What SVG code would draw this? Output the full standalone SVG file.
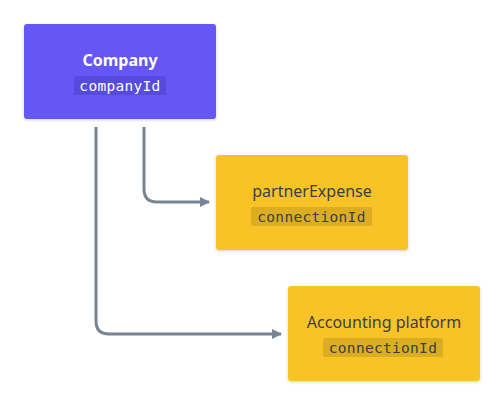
<svg xmlns="http://www.w3.org/2000/svg" width="504" height="406" viewBox="0 0 504 406">
<style>
.title{font-family:"Noto Sans","Open Sans",sans-serif;font-size:16px;text-anchor:middle}
.code{font-family:"DejaVu Sans Mono","Liberation Mono",monospace;font-size:14.5px;text-anchor:middle;letter-spacing:0.3px}
.conn{fill:none;stroke:#778593;stroke-width:3}
</style>
<defs>
<filter id="sh" x="-10%" y="-10%" width="120%" height="130%">
<feDropShadow dx="0" dy="1" stdDeviation="1.5" flood-color="#000" flood-opacity="0.18"/>
</filter>
<marker id="arr" viewBox="0 0 10 10" refX="9" refY="5" markerWidth="10" markerHeight="10" markerUnits="userSpaceOnUse" orient="auto">
<path d="M0,0 L10,5 L0,10 Z" fill="#778593"/>
</marker>
</defs>
<rect width="504" height="406" fill="#ffffff"/>
<g id="connectors">
<path class="conn" d="M144,127 V189 Q144,202 157,202 H209" marker-end="url(#arr)"/>
<path class="conn" d="M96,127 V321 Q96,334 109,334 H281" marker-end="url(#arr)"/>
</g>
<g id="company">
<rect x="24" y="24" width="192" height="95" rx="3" fill="#6557f5" filter="url(#sh)"/>
<text class="title" x="120" y="66" fill="#ffffff" font-weight="bold">Company</text>
<rect x="74" y="76" width="92" height="19" rx="2" fill="#574bde"/>
<text class="code" x="120" y="90.5" fill="#ffffff">companyId</text>
</g>
<g id="partnerExpense">
<rect x="216" y="155" width="192" height="95" rx="3" fill="#f7c325" filter="url(#sh)"/>
<text class="title" x="312" y="197" fill="#3a3f44">partnerExpense</text>
<rect x="251" y="207" width="121" height="19" rx="2" fill="#dcad21"/>
<text class="code" x="311.5" y="221.5" fill="#3a3f44">connectionId</text>
</g>
<g id="accountingPlatform">
<rect x="288" y="286" width="192" height="95" rx="3" fill="#f7c325" filter="url(#sh)"/>
<text class="title" x="384" y="328" fill="#3a3f44">Accounting platform</text>
<rect x="323" y="338" width="120" height="19" rx="2" fill="#dcad21"/>
<text class="code" x="383" y="352.5" fill="#3a3f44">connectionId</text>
</g>
</svg>
